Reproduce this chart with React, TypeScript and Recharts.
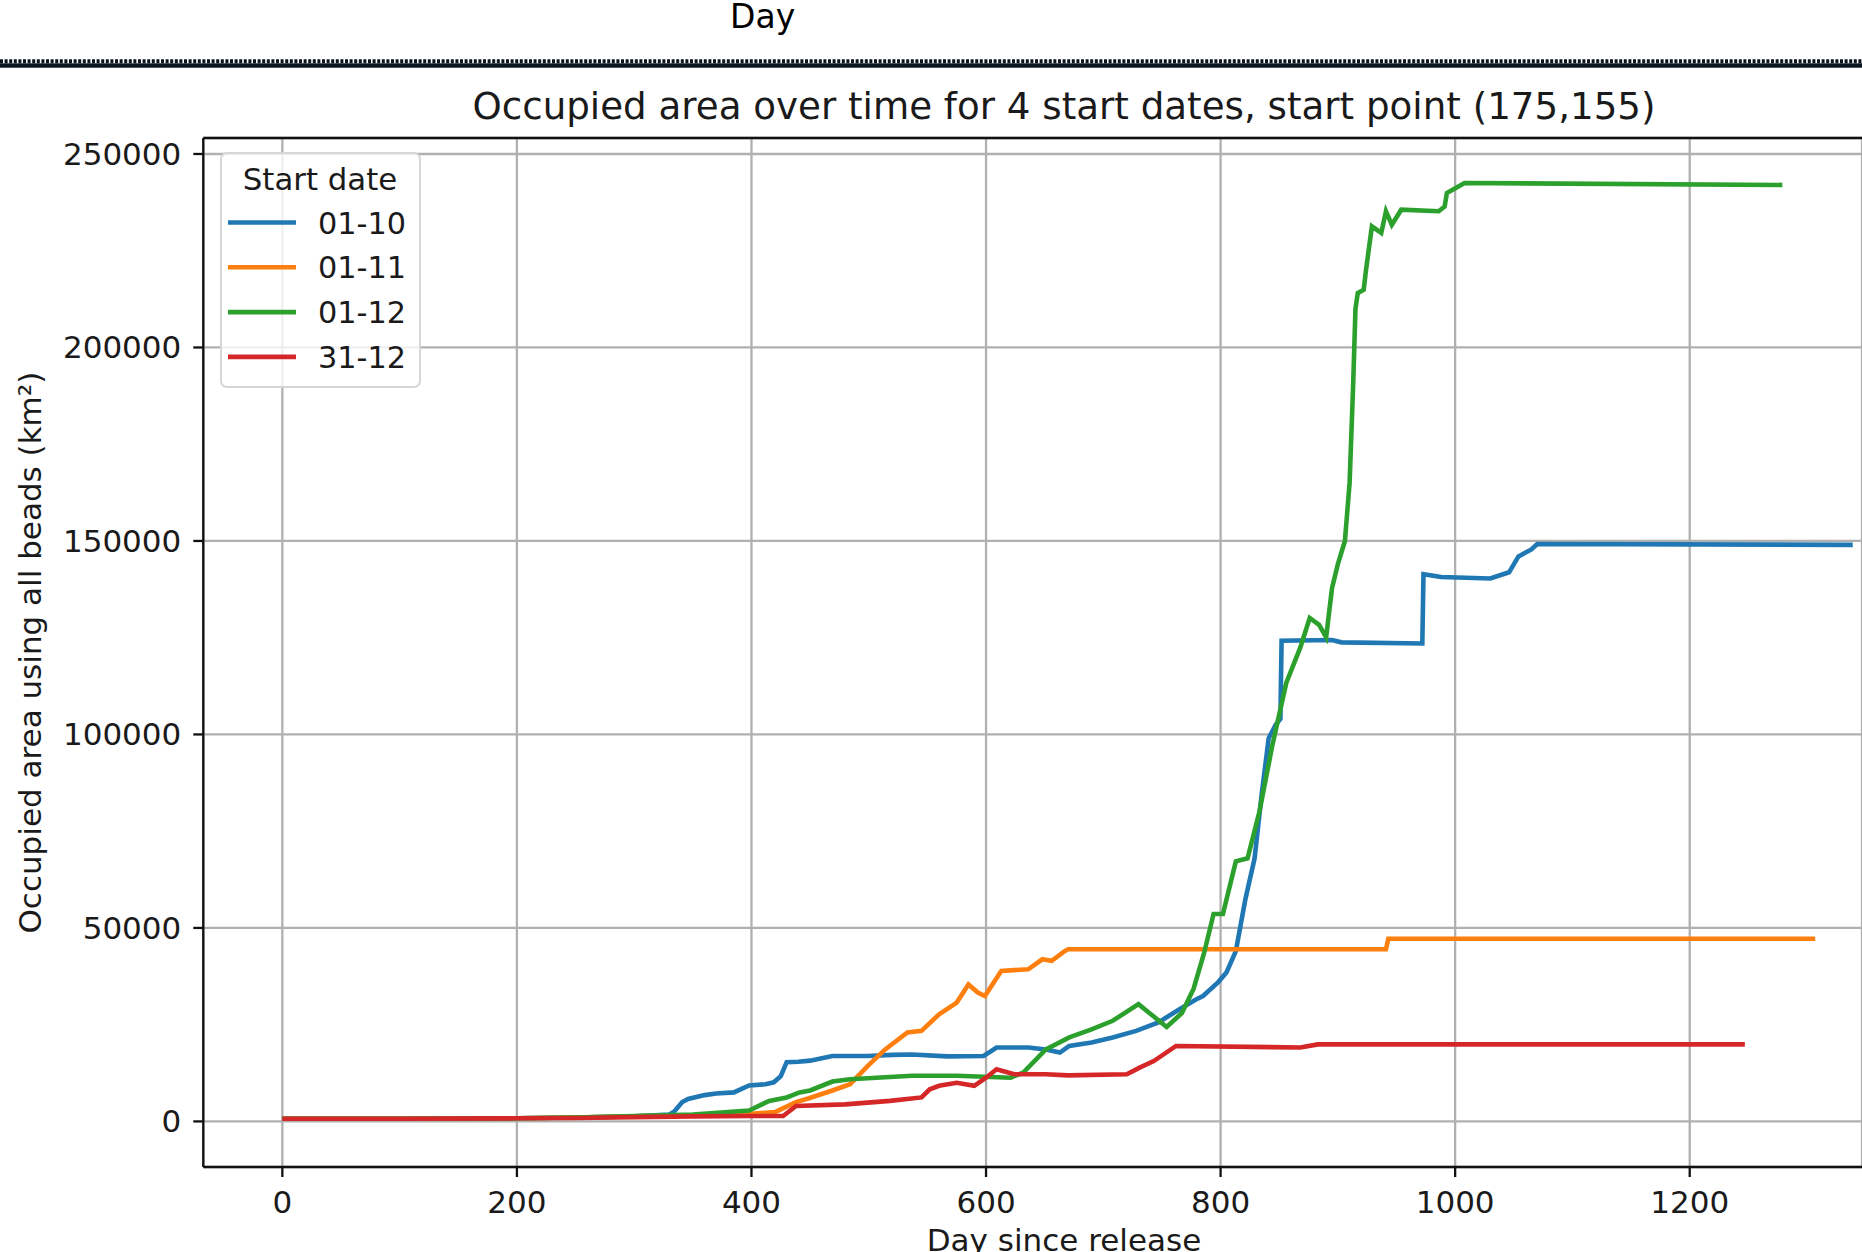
import {
  CartesianGrid,
  Legend,
  Line,
  LineChart,
  ReferenceLine,
  XAxis,
  YAxis,
} from "recharts";

const startDates = ["01-10", "01-11", "01-12", "31-12"];
const colors = ["#1f77b4", "#ff7f0e", "#2ca02c", "#d62728"];
const xTicks = [0, 200, 400, 600, 800, 1000, 1200];
const yTicks = [0, 50000, 100000, 150000, 200000, 250000];

// 01-10
const days0110 = [
  0, 100, 200, 250, 300, 330, 334, 341, 346, 360, 370, 385, 398, 412, 419, 425,
  430, 440, 450, 469, 499, 520, 537, 567, 598, 609, 636, 651, 663, 671, 690,
  708, 728, 747, 765, 779, 785, 798, 805, 813, 821, 829, 835, 841, 847, 851,
  852, 895, 903, 972, 973, 988, 1030, 1046, 1054, 1065, 1070, 1339,
];
const area0110 = [
  700, 700, 800, 1000, 1300, 1800, 2500, 5000, 5800, 6800, 7200, 7500, 9300,
  9600, 10100, 11700, 15300, 15400, 15700, 16900, 16900, 17200, 17300, 16800,
  16900, 19100, 19100, 18600, 17800, 19500, 20400, 21700, 23400, 25600, 29000,
  31500, 32400, 36000, 38500, 44000, 57200, 68000, 84400, 99000, 102500,
  104000, 124200, 124400, 123800, 123500, 141400, 140700, 140300, 141900,
  146000, 147800, 149200, 149000,
];

// 01-11
const days0111 = [
  0, 100, 200, 250, 300, 350, 400, 420, 438, 449, 469, 484, 499, 514, 533, 545,
  560, 575, 585, 593, 599, 613, 636, 648, 656, 667, 670, 941, 943, 1307,
];
const area0111 = [
  700, 700, 800, 1000, 1300, 1600, 2000, 2400, 5000, 6000, 8000, 9600, 14300,
  18600, 23000, 23400, 27700, 30700, 35400, 33300, 32400, 38900, 39300, 41900,
  41500, 44000, 44500, 44500, 47200, 47200,
];

// 01-12
const days0112 = [
  0, 100, 200, 250, 300, 350, 398, 415, 430, 441, 450, 469, 484, 537, 575, 621,
  632, 651, 671, 690, 708, 730, 739, 754, 767, 777, 786, 794, 802, 813, 823,
  833, 844, 856, 868, 876, 884, 890, 895, 900, 906, 910, 913, 915, 917, 922,
  924, 929, 937, 941, 946, 954, 986, 991, 993, 1008, 1279,
];
const area0112 = [
  700, 700, 800, 1000, 1400, 1800, 2800, 5300, 6200, 7500, 8000, 10300, 10900,
  11800, 11800, 11300, 12700, 18600, 21700, 23800, 26000, 30300, 28100, 24400,
  28000, 34300, 43600, 53600, 53600, 67200, 68000, 79900, 97000, 113300,
  122500, 130100, 128300, 125100, 137800, 144000, 150000, 165000, 190000,
  210000, 214100, 214900, 220000, 231300, 229600, 235200, 231700, 235600,
  235200, 236400, 239900, 242500, 242000,
];

// 31-12
const days3112 = [
  0, 100, 200, 250, 300, 350, 400, 427, 438, 480, 518, 545, 552, 560, 575, 590,
  600, 609, 624, 651, 670, 720, 731, 743, 762, 868, 883, 1247,
];
const area3112 = [
  700, 700, 800, 900, 1100, 1300, 1400, 1400, 4000, 4400, 5300, 6200, 8300,
  9200, 10000, 9200, 11300, 13500, 12200, 12200, 11900, 12200, 13900, 15600,
  19500, 19100, 19900, 19900,
];

const toRows = (days: number[], area: number[]) =>
  days.map((d, i) => ({ day: d, area: area[i] }));

const series = [
  toRows(days0110, area0110),
  toRows(days0111, area0111),
  toRows(days0112, area0112),
  toRows(days3112, area3112),
];

const FONT = "'DejaVu Sans', sans-serif";
const TXT = "#1a1a1a";
const yTop = 254130;

const LegendBox = () => (
  <svg width={202} height={237} style={{ display: "block" }}>
    <rect
      x={1}
      y={1}
      width={199}
      height={234}
      rx={6}
      fill="rgba(255,255,255,0.8)"
      stroke="#d6d6d6"
      strokeWidth={2}
    />
    <text x={100} y={37.5} textAnchor="middle" fontSize={30.8} fontFamily={FONT} fill={TXT}>
      Start date
    </text>
    {startDates.map((s, i) => {
      const cy = 70.5 + i * 44.8;
      return (
        <g key={s}>
          <line x1={8} x2={76} y1={cy} y2={cy} stroke={colors[i]} strokeWidth={4.6} />
          <text x={98} y={cy + 11} fontSize={30.3} fontFamily={FONT} fill={TXT}>
            {s}
          </text>
        </g>
      );
    })}
  </svg>
);

export default function App() {
  return (
    <div
      style={{
        position: "absolute",
        left: 0,
        top: 0,
        width: 1862,
        height: 1252,
        overflow: "hidden",
        background: "#fff",
      }}
    >
      <LineChart
        width={1862}
        height={1252}
        margin={{ top: 138, right: 0, bottom: 0, left: 0 }}
        style={{ position: "absolute", left: 0, top: 0 }}
      >
        <CartesianGrid stroke="#b0b0b0" strokeWidth={2.3} />
        <XAxis
          type="number"
          dataKey="day"
          domain={[-67.4, 1346.9]}
          allowDataOverflow
          ticks={xTicks}
          height={85}
          tickSize={10}
          tickMargin={14}
          stroke="#111"
          strokeWidth={2.3}
          tick={{ fontSize: 31, fontFamily: FONT, fill: TXT }}
        />
        <YAxis
          type="number"
          domain={[-11780, yTop]}
          allowDataOverflow
          ticks={yTicks}
          width={203.3}
          tickSize={10}
          tickMargin={12}
          stroke="#111"
          strokeWidth={2.3}
          tick={{ fontSize: 31, fontFamily: FONT, fill: TXT }}
        />
        <ReferenceLine y={yTop} stroke="#111" strokeWidth={2.3} />
        {series.map((rows, i) => (
          <Line
            key={startDates[i]}
            data={rows}
            dataKey="area"
            name={startDates[i]}
            type="linear"
            stroke={colors[i]}
            strokeWidth={4.6}
            dot={false}
            isAnimationActive={false}
          />
        ))}
        <Legend
          layout="vertical"
          align="center"
          verticalAlign="middle"
          content={<LegendBox />}
          wrapperStyle={{ left: 219.7, top: 151.7, width: 202, height: 237 }}
        />
      </LineChart>
      <svg
        width={1862}
        height={1252}
        style={{ position: "absolute", left: 0, top: 0, pointerEvents: "none" }}
      >
        <text x={730} y={27.5} fontSize={33} fontFamily={FONT} fill="#000">
          Day
        </text>
        <rect x={0} y={63.3} width={1862} height={4.4} fill="#0b1520" />
        <line
          x1={0}
          x2={1862}
          y1={61.3}
          y2={61.3}
          stroke="#0b1520"
          strokeWidth={4}
          strokeDasharray="3 1.6"
        />
        <text x={1064} y={119} textAnchor="middle" fontSize={37.2} fontFamily={FONT} fill={TXT}>
          Occupied area over time for 4 start dates, start point (175,155)
        </text>
        <text
          x={41}
          y={652.6}
          textAnchor="middle"
          fontSize={31}
          fontFamily={FONT}
          fill={TXT}
          transform="rotate(-90 41 652.6)"
        >
          Occupied area using all beads (km²)
        </text>
        <text x={1064} y={1251} textAnchor="middle" fontSize={31} fontFamily={FONT} fill={TXT}>
          Day since release
        </text>
      </svg>
    </div>
  );
}
